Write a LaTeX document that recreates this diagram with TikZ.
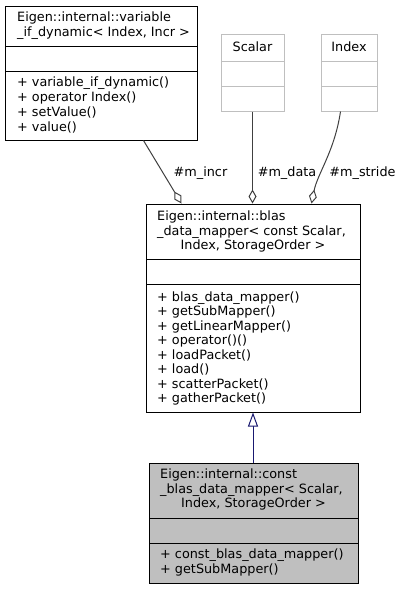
\documentclass[tikz,border=0pt]{standalone}
\usepackage{fontspec}
\setmainfont{DejaVu Sans}
\usetikzlibrary{arrows.meta}
\definecolor{edgegray}{HTML}{404040}
\definecolor{boxgray}{HTML}{BFBFBF}
\definecolor{inhblue}{HTML}{191970}
\tikzset{
  lbl/.style={inner sep=0pt, font=\fontsize{12.8}{14.5}\selectfont},
  txt/.style={lbl, anchor=base west},
  ctxt/.style={lbl, anchor=base},
  cls/.style={draw=black, line width=1pt, inner sep=0pt},
  gcls/.style={draw=boxgray, line width=1pt, inner sep=0pt},
  sep/.style={line width=1pt},
  comp/.style={draw=edgegray, line width=1pt, -{Diamond[open, fill=white, length=14pt, width=8pt]}},
  inh/.style={draw=inhblue, line width=1pt, -{Triangle[open, fill=white, length=14pt, width=10pt]}}
}
\begin{document}
\begin{tikzpicture}[x=1pt,y=-1pt]
\useasboundingbox[fill=white] (0,0) rectangle (403,589);
% box 1
\node[cls, minimum width=192pt, minimum height=134pt] (b1) at (101,73) {};
\draw[sep] (5,46) -- (197,46);
\draw[sep] (5,71) -- (197,71);
\node[txt] (b1h1) at (17,21) {Eigen::internal::variable};
\node[txt] (b1h2) at (17,36) {\_if\_dynamic< Index, Incr >};
\node[txt] (b1m1) at (17,86) {+ variable\_if\_dynamic()};
\node[txt] (b1m2) at (17,101) {+ operator Index()};
\node[txt] (b1m3) at (17,116) {+ setValue()};
\node[txt] (b1m4) at (17,131) {+ value()};
% Scalar
\node[gcls, minimum width=63pt, minimum height=77pt] (sc) at (252.5,72.5) {};
\draw[sep, boxgray] (221,61) -- (284,61);
\draw[sep, boxgray] (221,86) -- (284,86);
\node[ctxt] (sct) at (252.5,51.5) {Scalar};
% Index
\node[gcls, minimum width=56pt, minimum height=77pt] (ix) at (349,72.5) {};
\draw[sep, boxgray] (321,61) -- (377,61);
\draw[sep, boxgray] (321,86) -- (377,86);
\node[ctxt] (ixt) at (349,51.5) {Index};
% box 2
\node[cls, minimum width=214pt, minimum height=208pt] (b2) at (253,308) {};
\draw[sep] (146,259) -- (360,259);
\draw[sep] (146,284) -- (360,284);
\node[txt] (b2h1) at (157,220.5) {Eigen::internal::blas};
\node[txt] (b2h2) at (157,235) {\_data\_mapper< const Scalar,};
\node[ctxt] (b2h3) at (253,249.5) {Index, StorageOrder >};
\node[txt] (b2m1) at (157,301) {+ blas\_data\_mapper()};
\node[txt] (b2m2) at (157,315.5) {+ getSubMapper()};
\node[txt] (b2m3) at (157,330) {+ getLinearMapper()};
\node[txt] (b2m4) at (157,344.5) {+ operator()()};
\node[txt] (b2m5) at (157,359) {+ loadPacket()};
\node[txt] (b2m6) at (157,373.5) {+ load()};
\node[txt] (b2m7) at (157,388) {+ scatterPacket()};
\node[txt] (b2m8) at (157,402.5) {+ gatherPacket()};
% box 3
\node[cls, fill=boxgray, minimum width=209pt, minimum height=120pt] (b3) at (253.5,523) {};
\draw[sep] (149,518) -- (358,518);
\draw[sep] (149,543) -- (358,543);
\node[txt] (b3h1) at (160,478.5) {Eigen::internal::const};
\node[txt] (b3h2) at (160,493) {\_blas\_data\_mapper< Scalar,};
\node[ctxt] (b3h3) at (253.5,507.5) {Index, StorageOrder >};
\node[txt] (b3m1) at (160,558.5) {+ const\_blas\_data\_mapper()};
\node[txt] (b3m2) at (160,573) {+ getSubMapper()};
% edges
\draw[inh] (b3.north -| b2.south) -- (b2.south);
\draw[comp] ([xshift=139pt]b1.south west) -- ([xshift=36pt]b2.north west);
\draw[comp] (sc.south) -- (sc.south |- b2.north);
\draw[comp] ([xshift=20pt]ix.south west) .. controls ([xshift=14pt,yshift=-40pt]ix.south west) and ([xshift=172pt,yshift=30pt]b2.north west) .. ([xshift=166pt]b2.north west);
\node[ctxt] (lincr) at (200.5,176) {\#m\_incr};
\node[ctxt] (ldata) at (287,176) {\#m\_data};
\node[ctxt] (lstride) at (362.5,176) {\#m\_stride};
\end{tikzpicture}
\end{document}
